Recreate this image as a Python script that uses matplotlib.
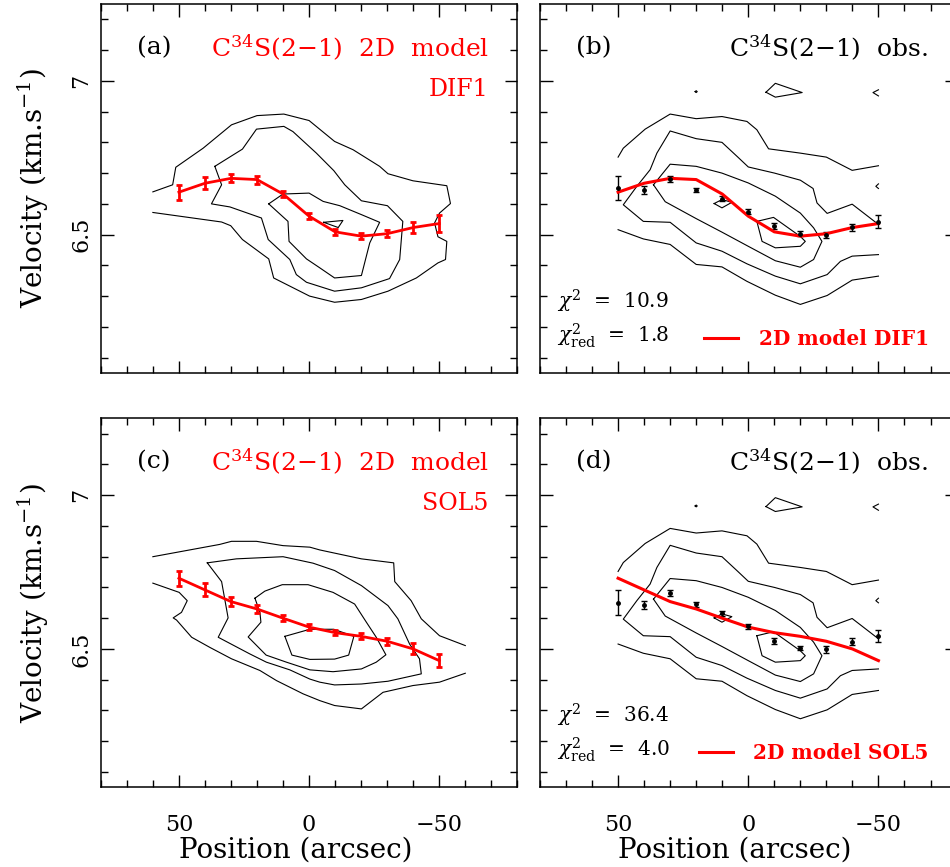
import matplotlib
matplotlib.use('Agg')
import matplotlib.pyplot as plt
from matplotlib.ticker import MultipleLocator, FormatStrFormatter

plt.rcParams['font.family'] = 'DejaVu Serif'
plt.rcParams['mathtext.fontset'] = 'dejavuserif'

# strip positions (arcsec)
positions = [50, 40, 30, 20, 10, 0, -10, -20, -30, -40, -50]

# observed centroid velocities (km/s) and errors
obs_vel = [6.651, 6.644, 6.682, 6.645, 6.616, 6.574, 6.527, 6.503, 6.499, 6.524, 6.542]
obs_err = [0.040, 0.013, 0.010, 0.007, 0.008, 0.008, 0.010, 0.008, 0.011, 0.011, 0.021]

# 2D model DIF1
dif1_vel = [6.638, 6.667, 6.683, 6.679, 6.632, 6.560, 6.509, 6.495, 6.503, 6.523, 6.536]
dif1_err = [0.024, 0.019, 0.013, 0.013, 0.011, 0.010, 0.009, 0.010, 0.012, 0.018, 0.027]

# 2D model SOL5
sol5_vel = [6.730, 6.692, 6.654, 6.630, 6.600, 6.571, 6.553, 6.541, 6.525, 6.500, 6.462]
sol5_err = [0.024, 0.021, 0.015, 0.012, 0.010, 0.010, 0.009, 0.010, 0.012, 0.018, 0.022]

chi2_dif1, chi2red_dif1 = '10.9', '1.8'
chi2_sol5, chi2red_sol5 = '36.4', '4.0'

# contour lines (position, velocity)
dif1_contours = [
    [(60, 6.639), (52.4, 6.662), (51.2, 6.719), (40.7, 6.781), (29.8, 6.857), (20, 6.887),
     (9.7, 6.892), (0, 6.871), (-9.8, 6.803), (-16.9, 6.776), (-27.1, 6.722), (-30.3, 6.698),
     (-39.9, 6.675), (-52.9, 6.659), (-54.3, 6.601), (-50.1, 6.570), (-48.2, 6.538),
     (-49.5, 6.493), (-52.9, 6.478), (-52.4, 6.419), (-49.5, 6.408), (-41.2, 6.359),
     (-30.3, 6.316), (-20.1, 6.289), (-9.8, 6.280), (-0.2, 6.300), (13.6, 6.359),
     (15.5, 6.421), (25.6, 6.484), (30.1, 6.529), (33.6, 6.541), (60, 6.572)],
    [(36.2, 6.722), (25.6, 6.778), (20.2, 6.843), (9.7, 6.852), (6.2, 6.835), (-2.8, 6.765),
     (-9.5, 6.708), (-13.7, 6.662), (-20.1, 6.610), (-30.1, 6.594), (-36.0, 6.543),
     (-34.8, 6.419), (-30.9, 6.357), (-20.1, 6.327), (-9.8, 6.316), (1.0, 6.345),
     (4.9, 6.370), (7.4, 6.419), (15.7, 6.484), (18.3, 6.554), (30.4, 6.590),
     (37.5, 6.600), (33.6, 6.662), (36.2, 6.722)],
    [(15.5, 6.600), (10.0, 6.632), (0.0, 6.635), (-5.4, 6.608), (-11.8, 6.594), (-20.1, 6.565),
     (-27.1, 6.540), (-23.3, 6.473), (-20.1, 6.367), (-9.8, 6.359), (-4.1, 6.392),
     (1.0, 6.421), (7.7, 6.478), (8.1, 6.543), (15.5, 6.600)],
    [(-5.6, 6.540), (-13.0, 6.546), (-11.2, 6.523), (-5.6, 6.540)],
]

obs_contours = [
    [(50, 6.752), (48.0, 6.781), (39.6, 6.843), (30.0, 6.892), (20.0, 6.877), (10.1, 6.884),
     (0.5, 6.868), (-3.3, 6.841), (-7.8, 6.779), (-20.0, 6.765), (-30.0, 6.752),
     (-39.9, 6.709), (-50, 6.724)],
    [(50, 6.516), (40.3, 6.486), (30.0, 6.468), (20.0, 6.403), (10.1, 6.395), (0.5, 6.348),
     (-10.4, 6.303), (-20.0, 6.273), (-30.3, 6.302), (-39.9, 6.352), (-50, 6.365)],
    [(-50, 6.533), (-39.9, 6.599), (-30.3, 6.569), (-26.4, 6.603), (-24.9, 6.650),
     (-20.0, 6.677), (-10.1, 6.700), (0, 6.720), (4.0, 6.752), (10.1, 6.800), (20.0, 6.812),
     (30.0, 6.837), (35.1, 6.765), (37.7, 6.711), (42.8, 6.657), (48.0, 6.597),
     (40.3, 6.543), (30.0, 6.540), (20.0, 6.473), (10.1, 6.446), (0.5, 6.405),
     (-10.4, 6.365), (-20.0, 6.340), (-30.3, 6.370), (-35.4, 6.413), (-39.9, 6.430),
     (-50, 6.435)],
    [(36.4, 6.662), (30.0, 6.729), (20.0, 6.722), (10.1, 6.700), (0, 6.668), (-10.4, 6.625),
     (-20.0, 6.570), (-25.1, 6.522), (-28.3, 6.478), (-25.1, 6.419), (-20.0, 6.394),
     (-10.4, 6.415), (0, 6.462), (10.1, 6.508), (20.0, 6.552), (31.9, 6.607), (36.4, 6.662)],
    [(-3.3, 6.543), (-9.7, 6.556), (-20.0, 6.494), (-21.9, 6.478), (-20.0, 6.462),
     (-10.4, 6.457), (-5.3, 6.478), (-3.3, 6.543)],
    [(13.1, 6.601), (10.1, 6.614), (6.3, 6.605), (10.1, 6.587), (13.1, 6.601)],
    [(-6.8, 6.963), (-10.4, 6.992), (-20.7, 6.962), (-10.4, 6.947), (-6.8, 6.963)],
    [(20.4, 6.965), (20, 6.968), (19.6, 6.965), (20, 6.962), (20.4, 6.965)],
    [(-50, 6.971), (-47.9, 6.962), (-50, 6.951)],
    [(-50, 6.665), (-49, 6.657), (-50, 6.650)],
]

sol5_contours = [
    [(60, 6.800), (34.3, 6.840), (29.8, 6.850), (20.2, 6.850), (10.0, 6.836), (-0.3, 6.831),
     (-4.1, 6.822), (-20.1, 6.793), (-32.5, 6.780), (-32.9, 6.719), (-39.2, 6.657),
     (-43.1, 6.598), (-50.1, 6.543), (-60, 6.511)],
    [(60, 6.714), (49.9, 6.684), (46.8, 6.657), (49.0, 6.619), (52.2, 6.601), (50.9, 6.594),
     (45.1, 6.538), (38.1, 6.505), (29.8, 6.468), (18.9, 6.430), (12.5, 6.397),
     (2.3, 6.354), (-4.1, 6.332), (-9.8, 6.316), (-20.1, 6.305), (-28.4, 6.359),
     (-39.9, 6.381), (-50.1, 6.392), (-60, 6.421)],
    [(39.1, 6.780), (27.9, 6.793), (10.0, 6.800), (-1.5, 6.779), (-9.8, 6.755), (-20.1, 6.706),
     (-30.3, 6.641), (-34.1, 6.598), (-38.6, 6.516), (-42.4, 6.468), (-43.1, 6.419),
     (-30.3, 6.395), (-20.1, 6.386), (-9.8, 6.383), (-4.1, 6.392), (-0.3, 6.402),
     (7.4, 6.432), (16.4, 6.457), (22.8, 6.484), (34.9, 6.538), (31.1, 6.601),
     (33.6, 6.719), (39.1, 6.780)],
    [(20.8, 6.665), (17.0, 6.688), (10.3, 6.709), (0.4, 6.709), (-9.2, 6.684), (-17.5, 6.646),
     (-22.0, 6.587), (-25.8, 6.538), (-29.5, 6.481), (-25.8, 6.457), (-20.1, 6.435),
     (-9.2, 6.426), (-0.3, 6.432), (8.7, 6.457), (16.5, 6.480), (23.4, 6.539),
     (18.5, 6.587), (18.9, 6.620), (20.8, 6.665)],
    [(9.3, 6.541), (-0.3, 6.564), (-9.5, 6.564), (-17.2, 6.541), (-15.2, 6.480),
     (-9.8, 6.467), (-0.3, 6.466), (6.6, 6.480), (9.3, 6.541)],
]

RED = '#ff0000'


def setup_axes(ax, left_labels, bottom_labels):
    ax.set_xlim(80, -80)
    ax.set_ylim(6.05, 7.25)
    ax.xaxis.set_major_locator(MultipleLocator(50))
    ax.xaxis.set_minor_locator(MultipleLocator(10))
    ax.yaxis.set_major_locator(MultipleLocator(0.5))
    ax.yaxis.set_minor_locator(MultipleLocator(0.1))
    ax.yaxis.set_major_formatter(FormatStrFormatter('%g'))
    ax.tick_params(which='both', direction='in', top=True, right=True, width=1.0)
    ax.tick_params(which='major', length=9)
    ax.tick_params(which='minor', length=5)
    ax.tick_params(axis='x', labelsize=16, pad=19, labelbottom=bottom_labels)
    ax.tick_params(axis='y', labelsize=16, pad=6, labelleft=left_labels, labelrotation=90)
    for lab in ax.get_yticklabels():
        lab.set_va('center')
    for s in ax.spines.values():
        s.set_linewidth(1.1)
    if bottom_labels:
        ax.set_xlabel('Position (arcsec)', fontsize=20)
        ax.xaxis.set_label_coords(0.467, -0.133)
    if left_labels:
        ax.set_ylabel('Velocity (km.s$^{-1}$)', fontsize=20, labelpad=14)


def draw_contours(ax, contours):
    for c in contours:
        xs = [p[0] for p in c]
        ys = [p[1] for p in c]
        ax.plot(xs, ys, color='black', lw=0.8)


def model_panel(ax, tag, contours, vel, err, name):
    draw_contours(ax, contours)
    ax.errorbar(positions, vel, yerr=err, color=RED, lw=2, elinewidth=2,
                capsize=2.5, capthick=2)
    ax.text(66, 7.108, tag, fontsize=18, ha='left', va='center')
    ax.text(-69, 7.108, 'C$^{34}$S(2$-$1)  2D  model', fontsize=18, color=RED,
            ha='right', va='center')
    ax.text(-69, 6.972, name, fontsize=17, color=RED, ha='right', va='center')


def obs_panel(ax, tag, vel, chi2, chi2red, name):
    draw_contours(ax, obs_contours)
    ax.errorbar(positions, obs_vel, yerr=obs_err, fmt='o', color='black', ms=2.5,
                elinewidth=1, capsize=2.5, capthick=1)
    line, = ax.plot(positions, vel, color=RED, lw=2.2, label='2D model ' + name)
    ax.text(66, 7.108, tag, fontsize=18, ha='left', va='center')
    ax.text(-69, 7.108, 'C$^{34}$S(2$-$1)  obs.', fontsize=18, ha='right', va='center')
    ax.text(73.5, 6.283, r'$\chi^2$  =  ' + chi2, fontsize=14.5, ha='left', va='center')
    ax.text(73.5, 6.172, r'$\chi^2_{\rm red}$  =  ' + chi2red, fontsize=14.5, ha='left', va='center')
    ax.legend(handles=[line], loc='lower right', bbox_to_anchor=(0.933, 0.066),
              frameon=False, borderpad=0, borderaxespad=0, handlelength=1.7,
              handletextpad=1.0, prop={'weight': 'bold', 'size': 14.5}, labelcolor=RED)


fig = plt.figure(figsize=(9.5, 8.67), dpi=100)
w, h = 0.4385, 0.4256
ax_a = fig.add_axes([0.1061, 0.5698, w, h])
ax_b = fig.add_axes([0.5684, 0.5698, w, h])
ax_c = fig.add_axes([0.1061, 0.0919, w, h])
ax_d = fig.add_axes([0.5684, 0.0919, w, h])

model_panel(ax_a, '(a)', dif1_contours, dif1_vel, dif1_err, 'DIF1')
obs_panel(ax_b, '(b)', dif1_vel, chi2_dif1, chi2red_dif1, 'DIF1')
model_panel(ax_c, '(c)', sol5_contours, sol5_vel, sol5_err, 'SOL5')
obs_panel(ax_d, '(d)', sol5_vel, chi2_sol5, chi2red_sol5, 'SOL5')

setup_axes(ax_a, True, False)
setup_axes(ax_b, False, False)
setup_axes(ax_c, True, True)
setup_axes(ax_d, False, True)

fig.savefig('out.png', dpi=100)
